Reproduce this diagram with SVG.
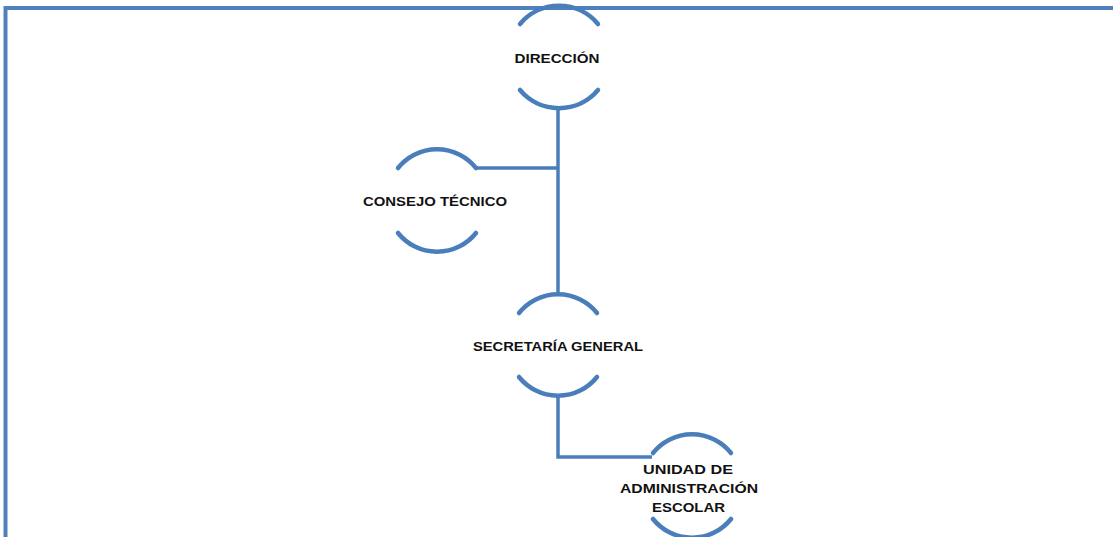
<svg xmlns="http://www.w3.org/2000/svg" width="1113" height="537" viewBox="0 0 1113 537">
<style>
.arc{fill:none;stroke:#4A7EBB;stroke-width:4.5;stroke-linecap:round}
.conn{fill:none;stroke:#4A7EBB;stroke-width:3.5}
.frame{fill:none;stroke:#4F81BD;stroke-width:4}
.t{font-family:"Liberation Sans",Arial,sans-serif;font-weight:bold;font-size:12.5px;fill:#111;text-anchor:middle;dominant-baseline:central}
</style>
<rect width="1113" height="537" fill="#fff"/>
<g id="frame">
<path class="frame" d="M5.5 537 V8 H1113"/>
</g>
<g id="connectors">
<path class="conn" d="M558 108 V295"/>
<path class="conn" d="M475 168 H558"/>
<path class="conn" d="M558 395 V457 H652"/>
</g>
<g id="direccion">
<path class="arc" d="M520 24 A51 51 0 0 1 598 24"/>
<path class="arc" d="M520 90 A51 51 0 0 0 598 90"/>
<text class="t" x="557" y="59" textLength="85" lengthAdjust="spacingAndGlyphs">DIRECCIÓN</text>
</g>
<g id="consejo">
<path class="arc" d="M398 168 A50 50 0 0 1 476 168"/>
<path class="arc" d="M398 233 A50 50 0 0 0 476 233"/>
<text class="t" x="435" y="202" textLength="144" lengthAdjust="spacingAndGlyphs">CONSEJO TÉCNICO</text>
</g>
<g id="secretaria">
<path class="arc" d="M519 313 A50 50 0 0 1 597 313"/>
<path class="arc" d="M519 377 A50 50 0 0 0 597 377"/>
<text class="t" x="558" y="347" textLength="170" lengthAdjust="spacingAndGlyphs">SECRETARÍA GENERAL</text>
</g>
<g id="unidad">
<path class="arc" d="M653 453 A50 50 0 0 1 731 453"/>
<path class="arc" d="M653 519 A50 50 0 0 0 731 519"/>
<text class="t" x="688" y="470" textLength="90" lengthAdjust="spacingAndGlyphs">UNIDAD DE</text>
<text class="t" x="689" y="489" textLength="138" lengthAdjust="spacingAndGlyphs">ADMINISTRACIÓN</text>
<text class="t" x="688.5" y="508" textLength="73" lengthAdjust="spacingAndGlyphs">ESCOLAR</text>
</g>
</svg>
